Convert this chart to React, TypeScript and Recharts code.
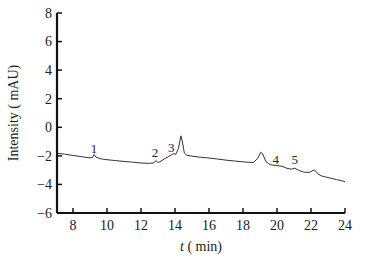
import React from 'react';
import { LineChart, Line, XAxis, YAxis, ReferenceDot, Label } from 'recharts';

const times = [7.06, 7.5, 8.0, 8.5, 9.0, 9.15, 9.24, 9.35, 9.6, 10.0, 10.5, 11.0, 11.5, 12.0, 12.5, 12.75, 12.88, 12.98, 13.1, 13.4, 13.7, 13.9, 14.05, 14.2, 14.35, 14.45, 14.55, 14.7, 15.0, 15.5, 16.0, 16.5, 17.0, 17.5, 18.0, 18.6, 18.85, 19.05, 19.15, 19.35, 19.6, 20.0, 20.3, 20.6, 20.85, 21.05, 21.25, 21.6, 21.9, 22.2, 22.4, 22.6, 23.0, 23.5, 24.0];
const intensity = [-1.82, -1.88, -1.97, -2.06, -2.14, -2.12, -1.9, -2.08, -2.2, -2.27, -2.33, -2.39, -2.44, -2.5, -2.52, -2.5, -2.33, -2.46, -2.42, -2.2, -2.0, -1.85, -1.88, -1.5, -0.6, -1.1, -1.8, -1.96, -2.02, -2.1, -2.15, -2.22, -2.3, -2.36, -2.42, -2.47, -2.2, -1.75, -1.85, -2.4, -2.62, -2.68, -2.73, -2.88, -2.93, -2.86, -3.0, -3.15, -3.15, -2.98, -3.25, -3.4, -3.52, -3.66, -3.8];

const peakNames = ['1', '2', '3', '4', '5'];
const peakTimes = [9.24, 12.82, 13.78, 19.92, 21.05];
const peakLabelValues = [-1.45, -1.73, -1.38, -2.22, -2.22];

const xTicks = [8, 10, 12, 14, 16, 18, 20, 22, 24];
const yTicks = [-6, -4, -2, 0, 2, 4, 6, 8];

const data = times.map((t, i) => ({ t, v: intensity[i] }));

const FONT = 'Liberation Serif, Times New Roman, serif';
const fmt = (v: number) => String(v).replace('-', '\u2212');

const YTick = (props: any) => {
  const { x, y, payload } = props;
  const ax = x + 5;
  return (
    <g>
      <line x1={ax} x2={ax + 5} y1={y} y2={y} stroke="#111" strokeWidth={1.5} />
      <text x={x} y={y} dy="0.35em" textAnchor="end" fontFamily={FONT} fontSize={14} fill="#222">
        {fmt(payload.value)}
      </text>
    </g>
  );
};

const XTick = (props: any) => {
  const { x, y, payload } = props;
  const ay = y - 7;
  return (
    <g>
      <line x1={x} x2={x} y1={ay} y2={ay - 5} stroke="#111" strokeWidth={1.5} />
      <text x={x} y={y} dy="0.71em" textAnchor="middle" fontFamily={FONT} fontSize={14} fill="#222">
        {fmt(payload.value)}
      </text>
    </g>
  );
};

const XTitle = (props: any) => {
  const vb = props.viewBox || {};
  const cx = vb.x + vb.width / 2;
  return (
    <text x={cx} y={251} textAnchor="middle" fontFamily={FONT} fontSize={14} fill="#222">
      <tspan fontStyle="italic">t</tspan>
      <tspan> ( min)</tspan>
    </text>
  );
};

const YTitle = (props: any) => {
  const vb = props.viewBox || {};
  const cy = vb.y + vb.height / 2;
  return (
    <text x={0} y={0} transform={`translate(18, ${cy}) rotate(-90)`} textAnchor="middle" fontFamily={FONT} fontSize={14} fill="#222">
      Intensity ( mAU)
    </text>
  );
};

const makePeakLabel = (text: string) => (props: any) => {
  const vb = props.viewBox || {};
  const cx = (vb.cx ?? vb.x + (vb.width || 0) / 2);
  const cy = (vb.cy ?? vb.y + (vb.height || 0) / 2);
  return (
    <text x={cx} y={cy} dy="0.35em" textAnchor="middle" fontFamily={FONT} fontSize={13} fill="#222">
      {text}
    </text>
  );
};

export default function App() {
  return (
    <div style={{ position: 'absolute', left: 0, top: 0, background: '#fff' }}>
      <LineChart width={365} height={263} data={data} margin={{ top: 13, right: 20, bottom: 0, left: 0 }}>
        <XAxis
          dataKey="t"
          type="number"
          domain={[7.06, 24]}
          ticks={xTicks}
          allowDataOverflow
          height={50}
          tickSize={5}
          tickMargin={2}
          tickLine={false}
          tick={<XTick />}
          axisLine={{ stroke: '#111', strokeWidth: 2.2 }}
        >
          <Label content={<XTitle />} />
        </XAxis>
        <YAxis
          type="number"
          domain={[-6, 8]}
          ticks={yTicks}
          allowDataOverflow
          width={57}
          tickSize={5}
          tickMargin={0}
          tickLine={false}
          tick={<YTick />}
          axisLine={{ stroke: '#111', strokeWidth: 2.2 }}
        >
          <Label content={<YTitle />} />
        </YAxis>
        <Line type="linear" dataKey="v" stroke="#333" strokeWidth={1} dot={false} isAnimationActive={false} />
        {peakNames.map((n, i) => (
          <ReferenceDot
            key={n}
            x={peakTimes[i]}
            y={peakLabelValues[i]}
            r={0}
            fill="none"
            stroke="none"
            label={makePeakLabel(n)}
          />
        ))}
      </LineChart>
    </div>
  );
}
